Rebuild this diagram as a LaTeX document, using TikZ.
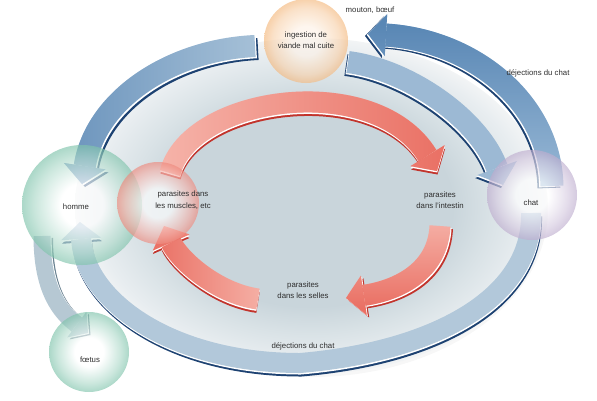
\documentclass[tikz,border=0pt]{standalone}
\usepackage{fontspec}
\setmainfont{Liberation Sans}
\usetikzlibrary{arrows.meta,fadings}
\definecolor{bgA}{HTML}{C9D5DB}
\definecolor{bgB}{HTML}{D9E2E6}
\definecolor{bgC}{HTML}{E8EDF0}
\definecolor{bgD}{HTML}{F2F4F5}
\definecolor{txt}{HTML}{2E2E2E}
\definecolor{blueAl}{HTML}{A9C3D9}
\definecolor{blueAd}{HTML}{6E96BE}
\definecolor{blueB}{HTML}{9CB9D4}
\definecolor{blueCl}{HTML}{9DBCD8}
\definecolor{blueCd}{HTML}{5987B5}
\definecolor{blueD}{HTML}{B2C8DA}
\definecolor{blueE}{HTML}{B6C8D3}
\definecolor{blueDark}{HTML}{1D4272}
\definecolor{greyDark}{HTML}{667F8F}
\definecolor{redL}{HTML}{F6B4AA}
\definecolor{redS}{HTML}{EA7064}
\definecolor{redDark}{HTML}{C2342C}
\definecolor{rimG}{HTML}{80C4AC}
\definecolor{rimR}{HTML}{EE8A7E}
\definecolor{rimO}{HTML}{F4B97F}
\definecolor{rimV}{HTML}{BFAECF}
\tikzfading[name=opaqueL, left color=transparent!0, right color=transparent!100]
\tikzfading[name=opaqueR, left color=transparent!100, right color=transparent!0]
\tikzfading[name=opaqueB, top color=transparent!100, bottom color=transparent!0]
\tikzfading[name=opaqueT, top color=transparent!0, bottom color=transparent!100]
\pgfdeclareradialshading{bgshade}{\pgfpoint{0bp}{0bp}}{color(0bp)=(bgA); color(15bp)=(bgA); color(19bp)=(bgB); color(23bp)=(bgC); color(25bp)=(bgD); color(50bp)=(bgD)}
\pgfdeclareradialshading[rimG]{sphG}{\pgfpoint{0bp}{0bp}}{color(0bp)=(white); color(9bp)=(white); color(20bp)=(rimG!65!white); color(25bp)=(rimG); color(50bp)=(rimG)}
\pgfdeclareradialshading[rimR]{sphR}{\pgfpoint{0bp}{0bp}}{color(0bp)=(white); color(9bp)=(white); color(20bp)=(rimR!65!white); color(25bp)=(rimR); color(50bp)=(rimR)}
\pgfdeclareradialshading[rimO]{sphO}{\pgfpoint{0bp}{0bp}}{color(0bp)=(rimO!15!white); color(9bp)=(rimO!20!white); color(20bp)=(rimO!65!white); color(25bp)=(rimO); color(50bp)=(rimO)}
\pgfdeclareradialshading[rimV]{sphV}{\pgfpoint{0bp}{0bp}}{color(0bp)=(white); color(9bp)=(white); color(20bp)=(rimV!65!white); color(25bp)=(rimV); color(50bp)=(rimV)}
% #1 main colour, #2 edge colour, #3 band width, #4 tip options,
% #5 shift of the dark edge, #6 shift of the white edge, #7 path
\newcommand\bandarrow[7]{%
  \draw[line width=#3, line cap=butt, draw=#2, transform canvas={shift={(#5)}}, -{Triangle[#4,line width=0pt]}] #7;
  \draw[line width=#3, line cap=butt, draw=white, transform canvas={shift={(#6)}}, -{Triangle[#4,line width=0pt]}] #7;
  \draw[line width=#3, line cap=butt, draw=#1, -{Triangle[#4,line width=0pt]}] #7;
}
% same, with a second colour faded in towards the head: #8 colour, #9 fading
\newcommand\gradarrow[9]{%
  \bandarrow{#1}{#2}{#3}{#4}{#5}{#6}{#7}%
  \draw[line width=#3, line cap=butt, draw=#8, path fading=#9, -{Triangle[#4,line width=0pt]}] #7;
}
\begin{document}
\begin{tikzpicture}[x=1pt,y=-1pt,
  lbl/.style={font=\fontsize{7.8}{11.5}\selectfont, text=txt, align=center, inner sep=0pt},
  ball/.style={circle, minimum size=#1, inner sep=0pt, shade, fill opacity=0.66, draw=none}]
\useasboundingbox (0,0) rectangle (597,400);
\fill[black!3] (312,209) ellipse [x radius=236pt, y radius=168pt];
\shade[shading=bgshade] (311,206) ellipse [x radius=236pt, y radius=168pt];
% end points
\coordinate (a0) at (255,46);  \coordinate (a1) at (82,184);
\coordinate (b0) at (348,62);  \coordinate (b1) at (503,185);
\coordinate (c0) at (552,186); \coordinate (c1) at (368,34);
\coordinate (d0) at (531,213); \coordinate (d1) at (80,222);
\coordinate (e0) at (42,236);  \coordinate (e1) at (88,333);
\coordinate (f0) at (170,173); \coordinate (f1) at (437,171);
\coordinate (g0) at (440,226); \coordinate (g1) at (346,298);
\coordinate (h0) at (258,299); \coordinate (h1) at (164,226);
% blue arrows
\bandarrow{blueD}{blueDark}{20pt}{width=40pt,length=17pt}{1,3.5}{0.4,1.5}{(d0) .. controls (533,300) and (430,352) .. (300,363) .. controls (170,363) and (85,300) .. (d1)}
\bandarrow{blueE}{greyDark}{17pt}{width=32pt,length=14pt}{2.5,2}{1.1,0.9}{(e0) .. controls (42,290) and (60,312) .. (e1)}
\gradarrow{blueAl}{blueDark}{22pt}{width=42pt,length=18pt}{3,3}{1.3,1.3}{(a0) .. controls (170,50) and (95,100) .. (a1)}{blueAd}{opaqueL}
\bandarrow{blueB}{blueDark}{22pt}{width=42pt,length=18pt}{-2,3}{-0.9,1.3}{(b0) .. controls (410,70) and (480,120) .. (b1)}
\gradarrow{blueCl}{blueDark}{23pt}{width=42pt,length=18pt}{-3,2}{-1.3,0.9}{(c0) .. controls (550,100) and (470,40) .. (c1)}{blueCd}{opaqueT}
% red arrows
\gradarrow{redL}{redDark}{21pt}{width=40pt,length=18pt}{0.5,3.5}{0.2,1.5}{(f0) .. controls (190,95) and (375,70) .. (f1)}{redS}{opaqueR}
\gradarrow{redL}{redDark}{21pt}{width=40pt,length=18pt}{2.5,2.5}{1.1,1.1}{(g0) .. controls (438,270) and (400,290) .. (g1)}{redS}{opaqueB}
\gradarrow{redL}{redDark}{21pt}{width=40pt,length=18pt}{0,3.5}{0,1.5}{(h0) .. controls (215,293) and (178,258) .. (h1)}{redS}{opaqueL}
% circles
\node[ball=120pt, shading=sphG] (homme) at (82,205) {};
\node[ball=82pt, shading=sphR] (muscles) at (158,203) {};
\node[ball=84pt, shading=sphO] (ingestion) at (306,41) {};
\node[ball=90pt, shading=sphV] (chat) at (532,195) {};
\node[ball=80pt, shading=sphG] (foetus) at (89,352) {};
% labels
\node[lbl] (tIng) at (306,40) {ingestion de\\viande mal cuite};
\node[lbl] (tMouton) at (370,10) {mouton, bœuf};
\node[lbl] (tDej1) at (538,73) {déjections du chat};
\node[lbl] (tHomme) at (76,207) {homme};
\node[lbl] (tMusc) at (183,200) {parasites dans\\les muscles, etc};
\node[lbl] (tInt) at (440,200) {parasites\\dans l'intestin};
\node[lbl] (tChat) at (531,203) {chat};
\node[lbl] (tSel) at (303,290) {parasites\\dans les selles};
\node[lbl] (tDej2) at (303,346) {déjections du chat};
\node[lbl] (tFoe) at (90,360) {fœtus};
\end{tikzpicture}
\end{document}
